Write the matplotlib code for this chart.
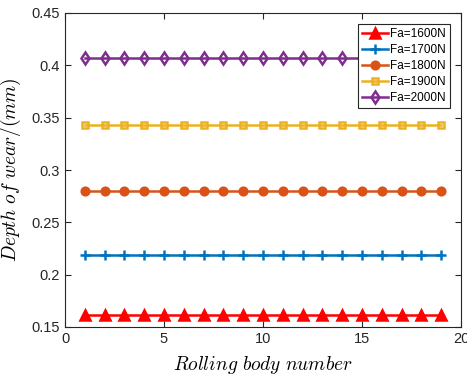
import numpy as np
import matplotlib
matplotlib.use('Agg')
import matplotlib.pyplot as plt

plt.rcParams['font.family'] = ['Liberation Sans', 'DejaVu Sans']
plt.rcParams['mathtext.fontset'] = 'cm'

# Data
bodies = list(range(1, 20))
labels = ['Fa=1600N', 'Fa=1700N', 'Fa=1800N', 'Fa=1900N', 'Fa=2000N']
depths = [0.161, 0.219, 0.280, 0.343, 0.407]

colors = ['#FF0000', '#0072BD', '#D95319', '#EDB120', '#7E2F8E']
markers = ['^', '+', 'o', 's', 'd']
msizes = [7, 7, 5.5, 5, 6.5]
faces = ['#FF0000', '#0072BD', '#D95319', 'none', 'none']

fig = plt.figure(figsize=(4.67, 3.81), dpi=100)
ax = fig.add_axes([65 / 467, 54 / 381, 396 / 467, 314 / 381])

for lab, d, c, m, ms, fc in zip(labels, depths, colors, markers, msizes, faces):
    ax.plot(bodies, [d] * len(bodies), color=c, marker=m, markersize=ms,
            markerfacecolor=fc, markeredgewidth=1.8, linewidth=1.8, label=lab)

ax.set_xlim(0, 20)
ax.set_ylim(0.15, 0.45)
ax.set_xticks([0, 5, 10, 15, 20])
ax.set_yticks([0.15, 0.2, 0.25, 0.3, 0.35, 0.4, 0.45])
ax.set_yticklabels(['0.15', '0.2', '0.25', '0.3', '0.35', '0.4', '0.45'])
ax.tick_params(direction='in', top=True, right=True, labelsize=10.5,
               length=4, width=0.8, colors='#262626')
for s in ax.spines.values():
    s.set_linewidth(0.8)
    s.set_color('#262626')

ax.set_xlabel(r'$Rolling\ body\ number$', fontsize=14, labelpad=6)
ax.set_ylabel(r'$Depth\ of\ wear/(mm)$', fontsize=14, labelpad=6)

leg = ax.legend(loc='upper right', fontsize=8.5, fancybox=False, framealpha=1,
                edgecolor='#262626', borderpad=0.35, labelspacing=0.35,
                handlelength=2.2, handletextpad=0.2, borderaxespad=0.9)
leg.get_frame().set_linewidth(0.8)

fig.savefig('out.png', dpi=100)
